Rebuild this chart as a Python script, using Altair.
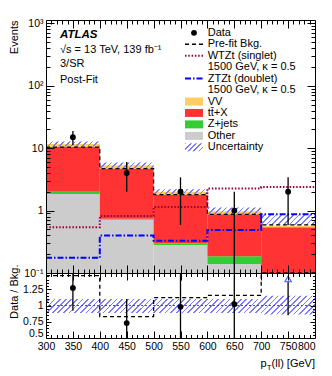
import altair as alt
import numpy as np
import pandas as pd

# ---------------- values ----------------
edges = [300, 400, 500, 600, 700, 800]
centers = [350, 450, 550, 650, 750]

other = [1.85, 0.71, 0.28, 0.14, 0.04]
zjets = [0.15, 0.03, 0.02, 0.045, 0.01]
ttx = [8.4, 3.96, 1.51, 0.685, 0.49]
vv = [1.3, 0.6, 0.19, 0.11, 0.03]
unc_lo = [10.6, 4.8, 1.85, 0.88, 0.58]
unc_hi = [12.8, 5.9, 2.2, 1.12, 0.87]
prefit = [10.4, 4.7, 1.8, 0.87, 0.59]
wtzt = [0.54, 0.82, 1.14, 2.26, 2.38]
ztzt = [0.175, 0.40, 0.33, 0.49, 0.87]
data = [15, 4, 2, 1, 2]
data_up = [18.9, 6.0, 3.41, 2.0, 3.41]
data_dn = [11.1, 2.0, 0.59, 0.0, 0.59]

ratio = [1.27, 0.73, 0.98, 1.02, 3.5]
ratio_up = [1.62, 1.10, 1.70, 2.04, 6.0]
ratio_dn = [0.92, 0.36, 0.28, 0.0, 0.85]
ratio_prefit = [1.46, 0.83, 1.12, 1.155, 3.3]
ratio_unc_lo = [0.885, 0.885, 0.885, 0.885, 0.86]
ratio_unc_hi = [1.10, 1.10, 1.10, 1.10, 1.15]

y_major = [0.1, 1, 10, 100, 1000]
y_major_labels = ["10⁻¹", "1", "10", "10²", "10³"]
r_major = [0.5, 0.75, 1, 1.25]
r_major_labels = ["0.5", "0.75", "1", "1.25"]

stack_names = ["Other", "Z+jets", "tt̄+X", "VV"]
stack_colors = ["#cccccc", "#33cc33", "#ff3333", "#ffcc66"]

legend_labels = ["Data", "Pre-fit Bkg.", "WTZt (singlet)", "1500 GeV, κ = 0.5",
                 "ZTZt (doublet)", "1500 GeV, κ = 0.5", "VV", "tt̄+X", "Z+jets",
                 "Other", "Uncertainty"]
info_lines = ["√s = 13 TeV, 139 fb⁻¹", "3/SR", "Post-Fit"]
atlas_label = "ATLAS"
xtitle_parts = ["p", "T", "(ll) [GeV]"]
ytitle_up = "Events"
ytitle_lo = "Data / Bkg."

# ---------------- layout / style constants ----------------
W, H1, H2 = 269, 253, 65
H = H1 + H2
YMAX = 1130
FONT = "Liberation Sans"
HATCH = "#7b7bff"
C_W = "#990033"
C_Z = "#0000ff"


def hatch(n, k, hw, frac=0.3):
    stops = []
    clear = "rgba(255,255,255,0)"
    for i in range(n):
        a, b, c = i / n, (i + frac) / n, (i + 1) / n
        stops += [{"offset": round(a, 5), "color": HATCH},
                  {"offset": round(b, 5), "color": HATCH},
                  {"offset": round(b, 5), "color": clear},
                  {"offset": round(c, 5), "color": clear}]
    return {"gradient": "linear", "x1": 0, "y1": 0, "x2": k, "y2": k * hw, "stops": stops}


def label_expr(vals, labels):
    s = ""
    for v, l in zip(vals, labels):
        s += f"datum.value == {v} ? '{l}' : "
    return s + "''"


# ---------------- tables ----------------
rows = []
base = np.zeros(5)
for name, vals in zip(stack_names, [other, zjets, ttx, vv]):
    top = base + np.array(vals)
    for i in range(5):
        rows.append({"lo": edges[i], "hi": edges[i + 1],
                     "y0": max(base[i], 1e-3), "y1": top[i], "comp": name})
    base = top
stack_df = pd.DataFrame(rows)


def ext(v):
    return list(v) + [v[-1]]


step_df = pd.DataFrame({"x": edges, "unc_lo": ext(unc_lo), "unc_hi": ext(unc_hi),
                        "prefit": ext(prefit), "wtzt": ext(wtzt), "ztzt": ext(ztzt),
                        "r_lo": ext(ratio_unc_lo), "r_hi": ext(ratio_unc_hi),
                        "r_pre": ext(ratio_prefit)})

pts_df = pd.DataFrame({"c": centers, "n": data, "up": data_up,
                       "dn": np.maximum(np.array(data_dn), 1e-3)})

R_TOP_MARK = 1.41
rr = np.array(ratio)
inr = (rr >= 0.5) & (rr <= 1.5)
rat_df = pd.DataFrame({"c": centers, "r": ratio,
                       "rp": np.where(inr, rr, R_TOP_MARK),
                       "up": np.where(inr, ratio_up, R_TOP_MARK - 0.05),
                       "dn": ratio_dn, "inr": inr})

# ---------------- scales & axes ----------------
xs = alt.Scale(domain=[300, 800], nice=False, zero=False)
ys = alt.Scale(type="log", domain=[0.1, YMAX], range=[H1, 0], nice=False, clamp=True)
rs = alt.Scale(domain=[0.5, 1.5], range=[H, H1], nice=False, zero=False, clamp=True)

x_vals = list(range(300, 801, 10))
y_vals = sorted(set([round(m * 10.0 ** e, 6) for e in range(-1, 3) for m in range(1, 10)] + [1000, YMAX]))
r_vals = [round(0.5 + 0.05 * i, 2) for i in range(21)]

common = dict(grid=True, gridColor="black", gridOpacity=1, gridWidth=1, ticks=False,
              domain=False, zindex=1, labelColor="black", labelFont=FONT,
              titleColor="black", titleFont=FONT, titleFontWeight="normal", titleFontSize=11,
              labelFontSize=10.5, labelOverlap=False)


def ydash(major_test, frame_test, tmaj, tmin):
    return {"condition": [{"test": frame_test, "value": [2000, 0]},
                          {"test": major_test, "value": [tmaj, W - 2 * tmaj, tmaj]}],
            "value": [tmin, W - 2 * tmin, tmin]}


def xpat(tr, tu):
    # grid runs from the bottom of the ratio panel up to the top of the main panel
    return [tr, H2 - 2 * tr, tr + tu, H1 - 2 * tu, tu, 2000]


ax_x = alt.Axis(values=x_vals, orient="bottom",
                labelExpr="datum.value % 50 == 0 ? '' + datum.value : ''",
                labelFlush=False, labelPadding=3,
                labelAlign={"condition": {"test": "datum.value == 800", "value": "right"},
                            "value": "center"},
                gridDash={"condition": [{"test": "datum.value == 300 || datum.value == 800",
                                         "value": [2000, 0]},
                                        {"test": "datum.value % 50 == 0", "value": xpat(7, 8)}],
                          "value": xpat(3.5, 4)},
                title=None, **common)
ax_y_up = alt.Axis(values=y_vals, orient="left", labelExpr=label_expr(y_major, y_major_labels),
                   labelPadding=3,
                   gridDash=ydash(f"indexof({y_major}, datum.value) >= 0",
                                  f"datum.value == 0.1 || datum.value == {YMAX}", 8, 4),
                   title=ytitle_up, titleAnchor="end", titleAlign="right", titleX=-27,
                   titleBaseline="bottom", **common)
ax_y_lo = alt.Axis(values=r_vals, orient="left", labelExpr=label_expr(r_major, r_major_labels),
                   labelPadding=3,
                   labelBaseline={"condition": {"test": "datum.value == 0.5", "value": "bottom"},
                                  "value": "middle"},
                   gridDash=ydash("indexof([0.5, 0.75, 1, 1.25, 1.5], datum.value) >= 0",
                                  "datum.value == 0.5 || datum.value == 1.5", 5, 2.5),
                   title=ytitle_lo, titleAlign="right", titleX=-27, titleY=H1 - 9,
                   titleBaseline="bottom", **common)


def X(f):
    return alt.X(f, scale=xs, axis=None)


def Y(f):
    return alt.Y(f, scale=ys, axis=None)


def R(f):
    return alt.Y(f, scale=rs, axis=None)


one_row = pd.DataFrame({"k": [0]})

# ---------------- main panel ----------------
x_carrier = alt.Chart(pd.DataFrame({"x": [300]})).mark_rule(opacity=0).encode(
    x=alt.X("x:Q", scale=xs, axis=ax_x))

stack = alt.Chart(stack_df).mark_rect().encode(
    x=X("lo:Q"), x2="hi:Q",
    y=alt.Y("y1:Q", scale=ys, axis=ax_y_up), y2="y0:Q",
    color=alt.Color("comp:N", scale=alt.Scale(domain=stack_names, range=stack_colors), legend=None))

band = alt.Chart(step_df).mark_area(interpolate="step-after", fill=hatch(62, 1.2, 0.3115)).encode(
    x=X("x:Q"), y=Y("unc_hi:Q"), y2="unc_lo:Q")


def step_line(col, color, dash, width, yenc):
    return alt.Chart(step_df).mark_line(interpolate="step-after", color=color, strokeDash=dash,
                                        strokeWidth=width).encode(x=X("x:Q"), y=yenc(f"{col}:Q"))


pre_line = step_line("prefit", "black", [4, 3], 1.3, Y)
w_line = step_line("wtzt", C_W, [1.5, 1.8], 2, Y)
z_line = step_line("ztzt", C_Z, [6, 2, 1.5, 2], 2, Y)

err = alt.Chart(pts_df).mark_rule(color="black", strokeWidth=1.3).encode(
    x=X("c:Q"), y=Y("up:Q"), y2="dn:Q")
dots = alt.Chart(pts_df).mark_circle(color="black", size=34, opacity=1).encode(x=X("c:Q"), y=Y("n:Q"))


def txt(s, x, y, size=11, align="left", **kw):
    return alt.Chart(pd.DataFrame({"t": [s]})).mark_text(
        align=align, baseline="middle", font=FONT, fontSize=size, color="black", **kw).encode(
        x=alt.value(x), y=alt.value(y), text="t:N")


texts = [txt(atlas_label, 14, 14.7, size=11.5, fontWeight="bold", fontStyle="italic")]
for s, yy in zip(info_lines, [29.7, 44.0, 60.3]):
    texts.append(txt(s, 14, yy))

ry = [12.8 + 11.45 * k for k in range(len(legend_labels))]
LX0, LX1, LXD, LXT = 139, 157, 148, 161.7
legend = [txt(s, LXT, yy) for s, yy in zip(legend_labels, ry)]
legend.append(alt.Chart(one_row).mark_circle(color="black", size=34, opacity=1).encode(
    x=alt.value(LXD), y=alt.value(ry[0])))
for k, col, dash, wd in [(1, "black", [4, 3], 1.3), (2, C_W, [1.5, 1.8], 2), (4, C_Z, [6, 2, 1.5, 2], 2)]:
    legend.append(alt.Chart(one_row).mark_rule(color=col, strokeDash=dash, strokeWidth=wd).encode(
        x=alt.value(LX0), x2=alt.value(LX1), y=alt.value(ry[k])))
for k, col in [(6, "#ffcc66"), (7, "#ff3333"), (8, "#33cc33"), (9, "#cccccc")]:
    legend.append(alt.Chart(one_row).mark_rect(color=col).encode(
        x=alt.value(LX0), x2=alt.value(LX1), y=alt.value(ry[k] - 4), y2=alt.value(ry[k] + 4)))
legend.append(alt.Chart(one_row).mark_rect(fill=hatch(5, 1.21, 0.444)).encode(
    x=alt.value(LX0), x2=alt.value(LX1), y=alt.value(ry[10] - 4), y2=alt.value(ry[10] + 4)))

# ---------------- ratio panel ----------------
r_band = alt.Chart(step_df).mark_area(interpolate="step-after", fill=hatch(51, 1.065, 0.0701)).encode(
    x=X("x:Q"), y=alt.Y("r_hi:Q", scale=rs, axis=ax_y_lo), y2="r_lo:Q")
one = alt.Chart(pd.DataFrame({"v": [1]})).mark_rule(color="#555555", strokeDash=[2, 2],
                                                     strokeWidth=1).encode(y=R("v:Q"))
r_pre = step_line("r_pre", "black", [4, 3], 1.3, R)
r_err = alt.Chart(rat_df).mark_rule(color="black", strokeWidth=1.3).encode(
    x=X("c:Q"), y=R("up:Q"), y2="dn:Q")
r_dots = alt.Chart(rat_df).transform_filter("datum.inr").mark_circle(
    color="black", size=34, opacity=1).encode(x=X("c:Q"), y=R("rp:Q"))
r_tri = alt.Chart(rat_df).transform_filter("!datum.inr").mark_point(
    shape="triangle-up", filled=False, color="#6b6bff", size=40, strokeWidth=1.3, opacity=1).encode(
    x=X("c:Q"), y=R("rp:Q"))

xtitle = [txt(xtitle_parts[0], 220.7, H1 + 91, align="right"),
          txt(xtitle_parts[1], 225.6, H1 + 94.5, size=8, align="right"),
          txt(xtitle_parts[2], W, H1 + 91, align="right")]

chart = alt.layer(
    stack, band, pre_line, w_line, z_line, err, dots,
    r_band, one, r_pre, r_err, r_dots, r_tri, x_carrier,
    *texts, *legend, *xtitle
).resolve_scale(x="independent", y="independent").properties(
    width=W, height=H,
    padding={"left": 0, "top": 7, "right": 4, "bottom": 4}
).configure_view(stroke=None).configure(font=FONT)

chart.save("out.html", embed_options={"renderer": "svg", "actions": False})
